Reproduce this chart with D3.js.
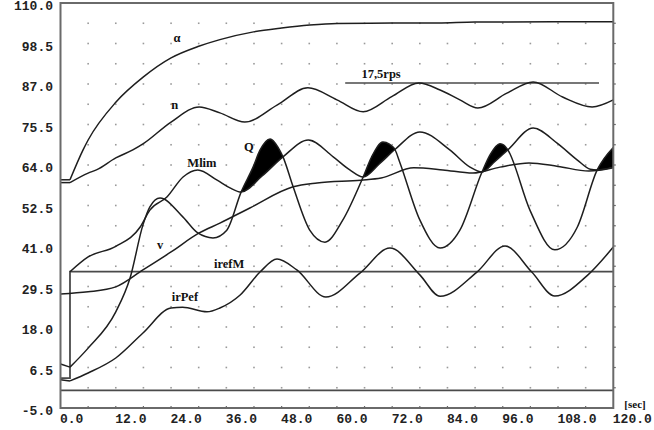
<!DOCTYPE html>
<html><head><meta charset="utf-8">
<script src="https://cdn.jsdelivr.net/npm/d3@7/dist/d3.min.js"></script>
<style>html,body{margin:0;padding:0;background:#fff;}svg{display:block;}</style>
</head><body>
<script>
// ---- data (time [sec], value) ----
const xTicks = [0,12,24,36,48,60,72,84,96,108,120];
const yTicks = [110,98.5,87,75.5,64,52.5,41,29.5,18,6.5,-5];

const alphaData = [[0,59.8],[2.06,59.8],[4.9,68.3],[6,71.1],[12,81.8],[18,89],[24,94.4],[30,97.7],[34.6,99.6],[41.9,101.8],[48,102.9],[54.1,103.75],[60,104.2],[72,104.3],[82,104.35],[90,104.6],[120,104.7]];
const nData = [[0,59],[2.06,59],[6,61.7],[7.8,62.6],[12,66],[15.7,68.3],[17.9,70],[24,76.2],[30.1,80.5],[34.6,78.8],[40,76.2],[47,81],[53.7,85.9],[60,82.5],[65.7,79.1],[71.9,83.4],[77.8,87.3],[82.4,85.3],[86.7,82.5],[90.6,80.2],[96.9,84.4],[102.6,87.6],[109,83.3],[115.4,80.5],[120,82.5]];
const mlimData = [[2.06,33.7],[6,37.9],[12,40.9],[17.3,46.4],[19.4,51.2],[23.1,54.9],[26.6,60.6],[29.8,62.6],[34,59.7],[36.8,57.5],[39.2,56.3],[43.7,60.8],[48.3,66.3],[53.8,71.1],[59.2,66.3],[62.8,62.6],[65.7,60.6],[69.2,64.3],[72.6,68.4],[78,73.4],[84.5,68.3],[88.9,63.4],[91.5,62],[94.3,65],[97.1,68.3],[102.6,74.5],[107.8,70.2],[112.2,65.4],[115,62.8],[116.5,62.6],[120,63.4]];
const qData = [[0,7.5],[2.06,6.6],[6,12],[12,22.3],[15.1,31.9],[17.9,47],[19.4,52.1],[21.6,54.6],[26.6,49.2],[29.8,44.7],[33.1,43.3],[36.1,45.5],[39.2,56.3],[41.8,63.4],[43.3,68.2],[45.5,71.4],[47.2,69.1],[48.3,66.3],[50.5,57.8],[54.1,45.5],[57.4,42.1],[61.3,48.4],[65.7,60.6],[67.5,66.2],[70,70.5],[71.4,69.9],[72.6,68.4],[73.7,64.6],[78,48.4],[82.4,40.4],[86.7,45.5],[91.5,62],[93.3,67],[95.4,70],[96.3,69.6],[97.1,68.3],[101.9,51.2],[107.3,39.9],[112.2,46.4],[116.5,62.6],[120,69]];
const vData = [[0,27.4],[6,28],[12,29.4],[17.9,34.2],[24,39.3],[30.1,44.7],[34.6,47.5],[41.1,51.8],[50.5,57.8],[55.7,58.9],[65.2,59.7],[69.6,60.3],[76.7,63.2],[83,62.6],[89.5,61.7],[95.4,63.4],[101.7,64.6],[108,63.6],[114.7,62.3],[120,63.2]];
const irefMData = [[0,3.5],[2.06,3.5],[2.06,33.7],[120,33.7]];
const irPefData = [[0,3.0],[2.06,2.7],[6,4.95],[12,9.2],[17.9,16.3],[24,23.4],[26.5,23.6],[31.8,22.3],[34.6,23.4],[39,27.1],[43.3,33.6],[47,37.3],[51.3,34.2],[57.6,26.5],[65,33.3],[71.5,40.4],[78,32.8],[82.4,26.7],[90.4,33.6],[96.5,41],[102.3,33.6],[107.3,26.8],[114.5,32.8],[120,40.7]];
const zeroData = [[0,0],[120,0]];
const rpsData = [[61.8,87.3],[116.9,87.3]];

const labels = [
  {text:"\u03b1", t:25.3, v:100.1},
  {text:"n", t:24.8, v:81.0},
  {text:"Mlim", t:30.7, v:64.6},
  {text:"Q", t:40.9, v:69.1},
  {text:"v", t:21.6, v:41.3},
  {text:"irefM", t:36.6, v:35.9},
  {text:"irPef", t:27.0, v:26.5},
  {text:"17,5rps", t:69.6, v:89.8}
];

// ---- chart ----
const W = 654, H = 430;
const x = d3.scaleLinear().domain([0,120]).range([60.5,613.3]);
const y = d3.scaleLinear().domain([-5,110]).range([408,3]);

const svg = d3.select("body").append("svg").attr("width",W).attr("height",H);
svg.append("rect").attr("width",W).attr("height",H).attr("fill","#fff");

const defs = svg.append("defs");

// grid dots
const gx = d3.range(6,120,6), gy = d3.range(1,20).map(i=>-5+i*5.75);
const dots = svg.append("g").attr("fill","#9a9a9a");
gx.forEach(t=>gy.forEach(v=>{
  dots.append("rect").attr("x",x(t)-0.8).attr("y",y(v)-0.8).attr("width",1.6).attr("height",1.6);
}));

const lineLin = d3.line().x(d=>x(d[0])).y(d=>y(d[1]));
const lineMono = d3.line().curve(d3.curveMonotoneX).x(d=>x(d[0])).y(d=>y(d[1]));

// fill region where Q exceeds Mlim (after t ~ 37)
const T0 = 2.06;
const mainPart = d => d.filter(p=>p[0]>=T0);
const leadPart = d => d.filter(p=>p[0]<=T0);

defs.append("clipPath").attr("id","aboveMlim").append("path")
  .attr("d", d3.area().curve(d3.curveMonotoneX).x(d=>x(d[0])).y0(0).y1(d=>y(d[1]))(mlimData));
defs.append("clipPath").attr("id","afterT").append("rect")
  .attr("x", x(37)).attr("y",0).attr("width", x(120)-x(37)).attr("height", H);

svg.append("g").attr("clip-path","url(#afterT)")
  .append("path")
  .attr("clip-path","url(#aboveMlim)")
  .attr("d", d3.area().curve(d3.curveMonotoneX).x(d=>x(d[0])).y0(y(-5)).y1(d=>y(d[1]))(mainPart(qData)))
  .attr("fill","#000");

// straight reference lines
const refG = svg.append("g").attr("fill","none").attr("stroke","#4a4a4a").attr("stroke-width",1.8);
refG.append("path").attr("d", lineLin(zeroData));
refG.append("path").attr("d", lineLin(irefMData));
refG.append("path").attr("d", lineLin(rpsData)).attr("stroke-width",1.5);

// curves
const curves = svg.append("g").attr("fill","none").attr("stroke","#1e1e1e").attr("stroke-width",1.5).attr("stroke-linejoin","round");
[alphaData, nData, qData, irPefData].forEach(d=>{
  curves.append("path").attr("d", lineLin(leadPart(d)));
  curves.append("path").attr("d", lineMono(mainPart(d)));
});
curves.append("path").attr("d", lineMono(mlimData));
curves.append("path").attr("d", lineMono(vData));

// frame
svg.append("rect").attr("x",x(0)).attr("y",y(110)).attr("width",x(120)-x(0)).attr("height",y(-5)-y(110))
  .attr("fill","none").attr("stroke","#6a6a6a").attr("stroke-width",2);

// small ticks on right and bottom frame
const tk = svg.append("g").attr("stroke","#6a6a6a").attr("stroke-width",1.2);
gy.forEach(v=>tk.append("line").attr("x1",x(120)).attr("x2",x(120)+2.5).attr("y1",y(v)).attr("y2",y(v)));
gx.forEach(t=>tk.append("line").attr("x1",x(t)).attr("x2",x(t)).attr("y1",y(-5)-2).attr("y2",y(-5)+1));

// tick labels
const mono = "'Liberation Mono','DejaVu Sans Mono',monospace";
svg.append("g").selectAll("text").data(yTicks).join("text")
  .attr("x",53).attr("y",v=>y(v)+3.5)
  .attr("text-anchor","end").attr("dominant-baseline","central")
  .attr("font-family",mono).attr("font-weight","bold").attr("font-size",13).attr("fill","#222")
  .text(v=>v.toFixed(1));
svg.append("g").selectAll("text").data(xTicks).join("text")
  .attr("x",t=>x(t)-0.5).attr("y",419)
  .attr("text-anchor","start").attr("dominant-baseline","central")
  .attr("font-family",mono).attr("font-weight","bold").attr("font-size",13).attr("fill","#222")
  .text(t=>t.toFixed(1));

// curve labels
const serif = "'Liberation Serif','DejaVu Serif',serif";
svg.append("g").selectAll("text").data(labels).join("text")
  .attr("x",d=>x(d.t)).attr("y",d=>y(d.v))
  .attr("text-anchor","middle").attr("dominant-baseline","central")
  .attr("font-family",serif).attr("font-weight","bold").attr("font-size",12.5).attr("fill","#111")
  .text(d=>d.text);

svg.append("text").attr("x",635).attr("y",404).attr("text-anchor","middle").attr("dominant-baseline","central")
  .attr("font-family",serif).attr("font-weight","bold").attr("font-size",11).attr("fill","#111").text("[sec]");
</script>
</body></html>
